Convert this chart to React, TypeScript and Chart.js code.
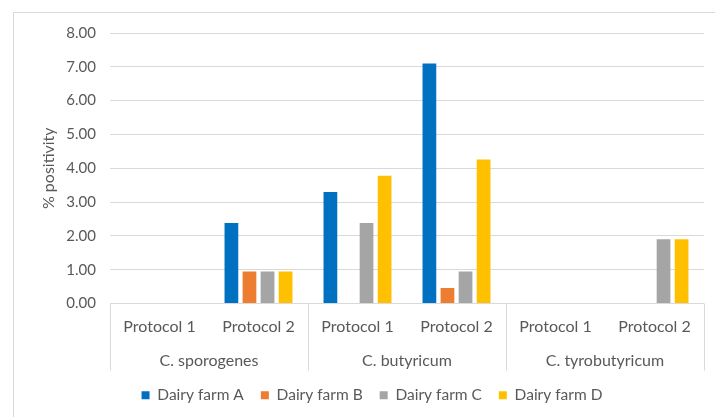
import React, { useEffect, useRef } from "react";
import { Chart, registerables } from "chart.js";

Chart.register(...registerables);

const groups = ["C. sporogenes", "C. butyricum", "C. tyrobutyricum"];
const protocols = ["Protocol 1", "Protocol 2", "Protocol 1", "Protocol 2", "Protocol 1", "Protocol 2"];
const seriesNames = ["Dairy farm A", "Dairy farm B", "Dairy farm C", "Dairy farm D"];
const farmA = [0, 2.38, 3.30, 7.10, 0, 0];
const farmB = [0, 0.95, 0, 0.46, 0, 0];
const farmC = [0, 0.95, 2.38, 0.95, 0, 1.90];
const farmD = [0, 0.95, 3.78, 4.26, 0, 1.90];
const colors = ["#0070C0", "#ED7D31", "#A5A5A5", "#FFC000"];
const yTicks = { min: 0, max: 8, step: 1 };

const FONT = "Lato, 'Liberation Sans', sans-serif";
const TEXT = "#595959";
const LINE = "#D9D9D9";

const groupLines = {
  id: "groupLines",
  afterDraw(chart: any) {
    const x2 = chart.scales.x2;
    const ctx = chart.ctx;
    const n = groups.length;
    ctx.save();
    ctx.strokeStyle = LINE;
    ctx.lineWidth = 1;
    for (let g = 0; g <= n; g++) {
      const px = Math.round(x2.left + (g * x2.width) / n) + 0.5;
      ctx.beginPath();
      ctx.moveTo(px, chart.chartArea.bottom);
      ctx.lineTo(px, x2.bottom);
      ctx.stroke();
    }
    ctx.restore();
  },
};

export default function App() {
  const ref = useRef<HTMLCanvasElement>(null);
  useEffect(() => {
    const data = [farmA, farmB, farmC, farmD];
    const chart = new Chart(ref.current!, {
      type: "bar",
      data: {
        labels: protocols,
        datasets: seriesNames.map((name, i) => ({
          label: name,
          data: data[i],
          backgroundColor: colors[i],
          borderWidth: 0,
          categoryPercentage: 0.73,
          barPercentage: 0.76,
        })),
      },
      plugins: [groupLines],
      options: {
        animation: false,
        responsive: false,
        maintainAspectRatio: false,
        layout: { padding: { left: 40, right: 11, top: 33, bottom: 4 } },
        plugins: {
          tooltip: { enabled: false },
          legend: {
            position: "bottom",
            labels: {
              boxWidth: 8,
              boxHeight: 8,
              padding: 17,
              color: TEXT,
              font: { family: FONT, size: 15.5 },
            },
          },
        },
        scales: {
          y: {
            min: yTicks.min,
            max: yTicks.max,
            afterFit: (s: any) => {
              s.width = 70;
            },
            ticks: {
              stepSize: yTicks.step,
              padding: 14,
              color: TEXT,
              font: { family: FONT, size: 15 },
              callback: (v: any) => Number(v).toFixed(2),
            },
            grid: { color: LINE, lineWidth: 1, drawTicks: false },
            border: { display: false },
            title: {
              display: true,
              text: "% positivity",
              color: TEXT,
              font: { family: FONT, size: 16 },
              padding: { top: -1, bottom: 0 },
            },
          },
          x: {
            type: "category",
            position: "bottom",
            weight: 1,
            afterFit: (s: any) => {
              s.height = 40;
            },
            grid: { display: false, drawTicks: false },
            border: { display: false },
            ticks: {
              padding: 14,
              color: TEXT,
              font: { family: FONT, size: 16 },
              maxRotation: 0,
              autoSkip: false,
            },
          },
          x2: {
            type: "category",
            position: "bottom",
            weight: 2,
            labels: groups,
            offset: true,
            afterFit: (s: any) => {
              s.height = 27;
            },
            grid: { display: false, drawTicks: false },
            border: { display: false },
            ticks: {
              padding: 8,
              color: TEXT,
              font: { family: FONT, size: 16 },
              maxRotation: 0,
              autoSkip: false,
            },
          },
        },
      },
    } as any);
    return () => chart.destroy();
  }, []);
  return (
    <div style={{ position: "fixed", left: 0, top: 0, width: 715, height: 417, background: "#fff", overflow: "hidden" }}>
      <div
        style={{
          position: "absolute",
          left: 13,
          top: 12,
          width: 760,
          height: 460,
          border: `1px solid ${LINE}`,
          boxSizing: "border-box",
        }}
      />
      <canvas ref={ref} width={715} height={417} style={{ position: "absolute", left: 0, top: 0 }} />
    </div>
  );
}
